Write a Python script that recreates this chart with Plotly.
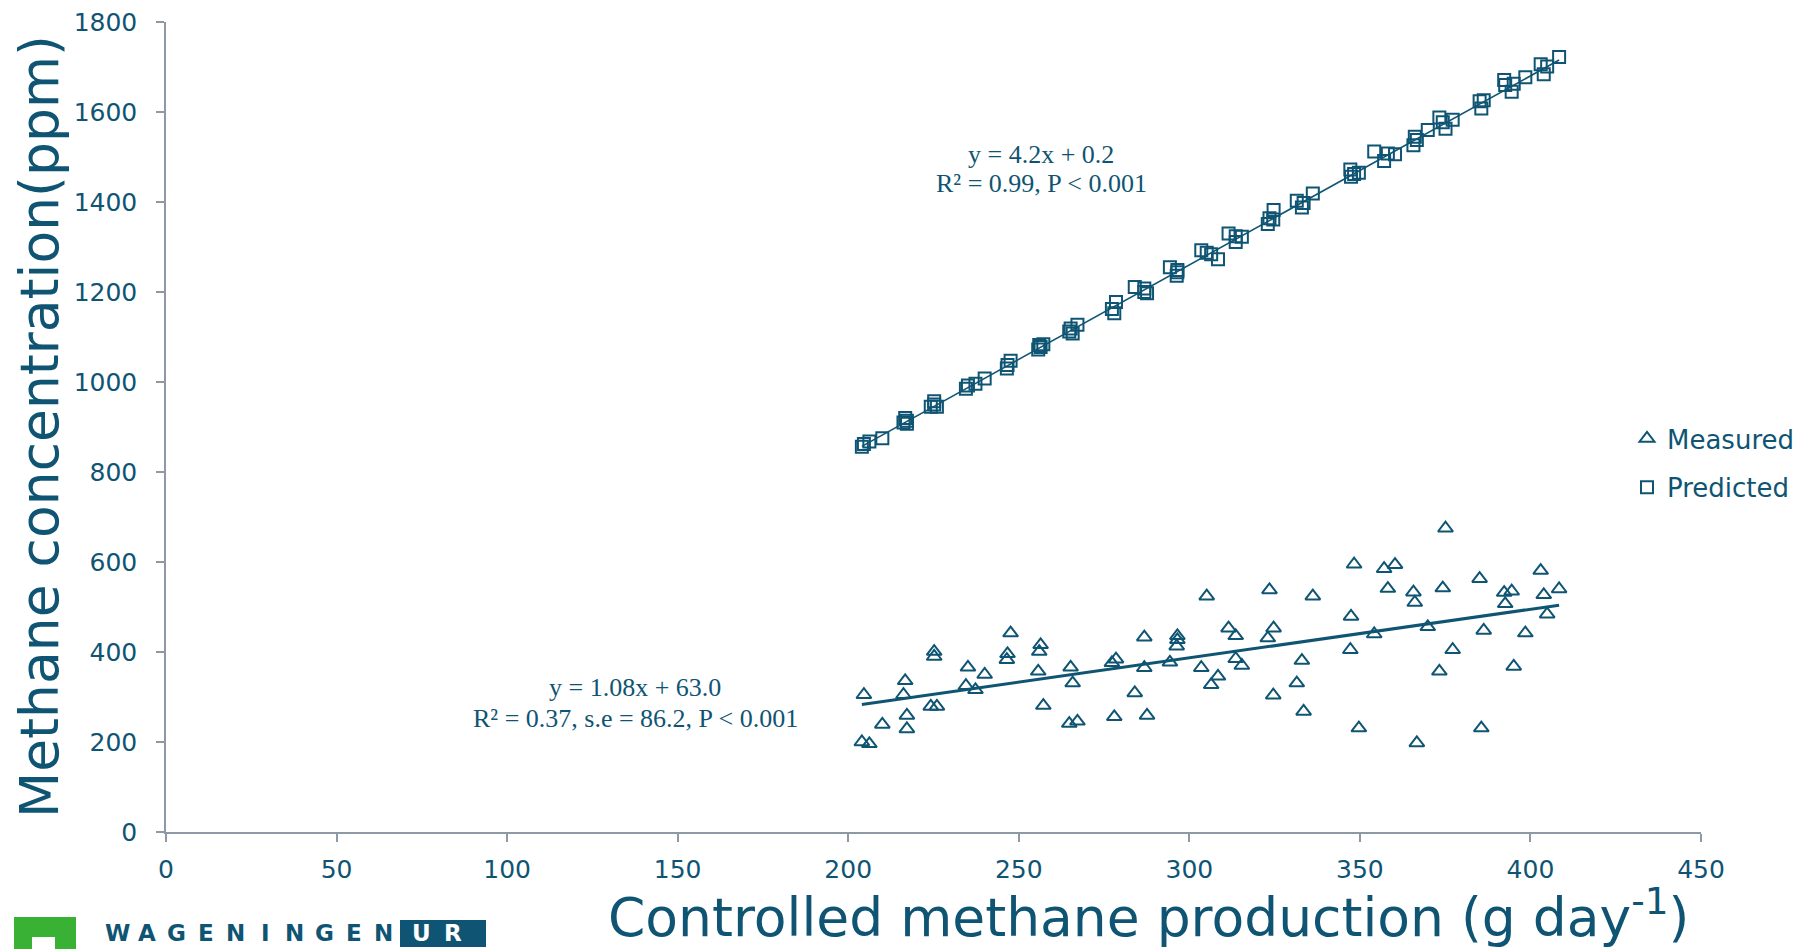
import plotly.graph_objects as go

# Controlled methane production (g/day) per animal, with measured and predicted concentrations (ppm)
production = [204.0, 204.6, 206.2, 210.0, 216.2, 216.7, 217.2, 217.2, 224.2, 225.2,
              225.2, 226.0, 234.5, 235.1, 237.3, 240.0, 246.5, 246.7, 247.6, 255.7,
              256.0, 256.4, 257.2, 264.8, 265.2, 265.8, 267.2, 277.3, 278.0, 278.5,
              284.0, 286.8, 286.8, 287.6, 294.3, 296.3, 296.5, 296.5, 303.5, 305.1,
              306.4, 308.4, 311.5, 313.6, 313.6, 315.4, 323.0, 323.5, 324.6, 324.7,
              331.5, 333.0, 333.5, 336.2, 347.2, 347.4, 348.3, 349.7, 354.2, 357.1,
              358.2, 360.3, 365.7, 366.1, 366.7, 369.9, 373.3, 374.3, 375.1, 377.2,
              385.1, 385.6, 386.3, 392.3, 392.6, 394.5, 395.1, 398.5, 403.0, 403.9,
              404.9, 408.4]

measured = [200, 305, 196, 239, 305, 336, 259, 229, 279, 401,
            390, 279, 325, 366, 316, 350, 383, 396, 442, 357,
            401, 416, 281, 241, 366, 331, 246, 376, 256, 384,
            309, 433, 365, 259, 377, 413, 436, 427, 365, 524,
            327, 346, 453, 436, 385, 370, 431, 538, 304, 453,
            331, 381, 268, 524, 405, 479, 595, 231, 440, 585,
            541, 594, 533, 510, 198, 456, 357, 542, 675, 405,
            563, 231, 448, 532, 507, 535, 368, 442, 581, 527,
            484, 540]

predicted = [856, 862, 868, 875, 910, 920, 907, 914, 945, 957,
             950, 945, 985, 992, 996, 1008, 1030, 1038, 1047, 1072,
             1082, 1078, 1084, 1112, 1119, 1108, 1127, 1162, 1153, 1178,
             1211, 1208, 1200, 1197, 1255, 1236, 1249, 1244, 1293, 1287,
             1284, 1273, 1330, 1311, 1324, 1323, 1351, 1364, 1361, 1382,
             1403, 1388, 1398, 1419, 1472, 1456, 1462, 1465, 1512, 1491,
             1508, 1506, 1526, 1545, 1538, 1560, 1588, 1577, 1563, 1583,
             1624, 1608, 1626, 1671, 1660, 1645, 1663, 1677, 1706, 1684,
             1701, 1722]

# Fitted regression lines (slope, intercept) as reported on the chart
fit_measured = (1.08, 63.0)
fit_predicted = (4.2, 0.2)

x_ticks = [0, 50, 100, 150, 200, 250, 300, 350, 400, 450]
y_ticks = [0, 200, 400, 600, 800, 1000, 1200, 1400, 1600, 1800]

TEAL = "#0f5573"
AXIS_GREY = "#8d9aa6"
GREEN = "#38b134"
SANS = "DejaVu Sans, Verdana, sans-serif"
SERIF = "Liberation Serif, Times New Roman, serif"

W, H = 1798, 949
ML, MR, MT, MB = 166, 97, 22, 117
PW, PH = W - ML - MR, H - MT - MB


def px_x(p):
    return (p - ML) / PW


def px_y(p):
    return (H - MB - p) / PH


fig = go.Figure()

fig.add_trace(go.Scatter(
    x=production, y=measured, mode="markers", name="Measured",
    legendgroup="m",
    marker=dict(symbol="triangle-up-open", size=13, color=TEAL,
                line=dict(width=2, color=TEAL)),
))
fig.add_trace(go.Scatter(
    x=production, y=predicted, mode="markers", name="Predicted",
    legendgroup="p",
    marker=dict(symbol="square-open", size=12, color=TEAL,
                line=dict(width=2, color=TEAL)),
))

x_lo, x_hi = min(production), max(production)
for (slope, icpt), lw in ((fit_measured, 3), (fit_predicted, 1.6)):
    fig.add_trace(go.Scatter(
        x=[x_lo, x_hi], y=[slope * x_lo + icpt, slope * x_hi + icpt],
        mode="lines", line=dict(color=TEAL, width=lw),
        showlegend=False, hoverinfo="skip",
    ))

annotations = []

# Regression equations
for text, cx, cy in (
    ("y = 4.2x + 0.2", 1041, 154),
    ("R² = 0.99, P < 0.001", 1041, 184),
    ("y = 1.08x + 63.0", 635, 687),
    ("R² = 0.37, s.e = 86.2, P < 0.001", 635, 718),
):
    annotations.append(dict(
        text=text, x=px_x(cx), y=px_y(cy), xref="paper", yref="paper",
        xanchor="center", yanchor="middle", showarrow=False,
        font=dict(family=SERIF, size=26, color=TEAL),
    ))

# Axis titles
annotations.append(dict(
    text="Controlled methane production (g day<sup>-1</sup>)",
    x=px_x(1148), y=px_y(914), xref="paper", yref="paper",
    xanchor="center", yanchor="middle", showarrow=False,
    font=dict(family=SANS, size=53.5, color=TEAL),
))
annotations.append(dict(
    text="Methane concentration(ppm)",
    x=px_x(39), y=px_y(427), xref="paper", yref="paper",
    xanchor="center", yanchor="middle", showarrow=False, textangle=-90,
    font=dict(family=SANS, size=53.5, color=TEAL),
))

# Institute logo
logo_word = "WAGENINGEN"
for i, ch in enumerate(logo_word):
    annotations.append(dict(
        text=ch, x=px_x(117 + i * 29.6), y=px_y(933),
        xref="paper", yref="paper", xanchor="center", yanchor="middle",
        showarrow=False, font=dict(family=SANS, size=23, color=TEAL, weight="bold"),
    ))
for i, ch in enumerate("UR"):
    annotations.append(dict(
        text=ch, x=px_x(421 + i * 32), y=px_y(933),
        xref="paper", yref="paper", xanchor="center", yanchor="middle",
        showarrow=False, font=dict(family=SANS, size=23, color="white", weight="bold"),
    ))

shapes = [
    dict(type="rect", xref="paper", yref="paper", layer="below",
         x0=px_x(14), x1=px_x(76), y0=px_y(960), y1=px_y(917),
         fillcolor=GREEN, line=dict(width=0)),
    dict(type="rect", xref="paper", yref="paper", layer="below",
         x0=px_x(32), x1=px_x(55), y0=px_y(960), y1=px_y(937),
         fillcolor="white", line=dict(width=0)),
    dict(type="rect", xref="paper", yref="paper", layer="below",
         x0=px_x(400), x1=px_x(486), y0=px_y(947), y1=px_y(920),
         fillcolor=TEAL, line=dict(width=0)),
]

axis_common = dict(
    showgrid=False, zeroline=False, showline=True, linecolor=AXIS_GREY,
    linewidth=1.5, ticks="outside", ticklen=8, tickwidth=1.5,
    tickcolor=AXIS_GREY, tickfont=dict(family=SANS, size=25, color=TEAL),
)

fig.update_layout(
    width=W, height=H,
    margin=dict(l=ML, r=MR, t=MT, b=MB, pad=0, autoexpand=False),
    paper_bgcolor="white", plot_bgcolor="white",
    xaxis=dict(range=[0, 450], tickvals=x_ticks, ticklabelstandoff=6,
               **axis_common),
    yaxis=dict(range=[0, 1800], tickvals=y_ticks, ticklabelstandoff=14,
               **axis_common),
    legend=dict(
        x=px_x(1627), y=px_y(463), xanchor="left", yanchor="middle",
        bgcolor="rgba(0,0,0,0)", traceorder="grouped", tracegroupgap=12,
        font=dict(family=SANS, size=26, color=TEAL),
    ),
    annotations=annotations,
    shapes=shapes,
)

fig.write_html("out.html")
